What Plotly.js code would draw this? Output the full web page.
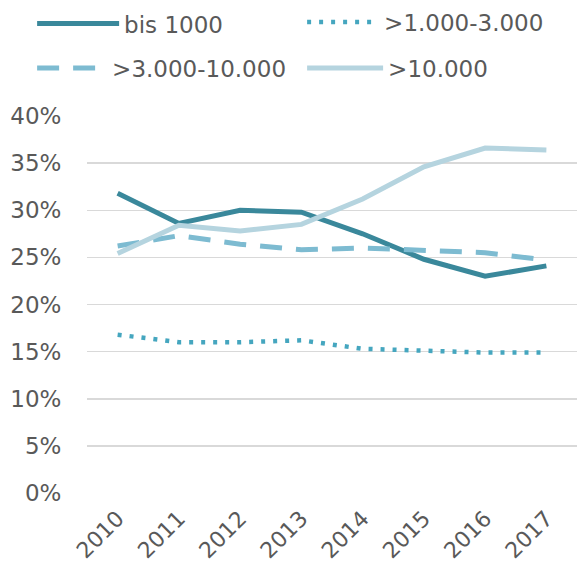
<!DOCTYPE html>
<html><head><meta charset="utf-8">
<script src="https://cdn.plot.ly/plotly-3.0.1.min.js"></script>
<style>body{margin:0;padding:0;background:#fff}#chart{width:577px;height:567px}</style>
</head><body><div id="chart"></div>
<script>
const years = ['2010','2011','2012','2013','2014','2015','2016','2017'];
const names = ['bis 1000', '>1.000-3.000', '>3.000-10.000', '>10.000'];
const bis1000 = [0.318, 0.286, 0.300, 0.298, 0.275, 0.248, 0.230, 0.241];
const s1000_3000 = [0.168, 0.160, 0.160, 0.162, 0.153, 0.151, 0.149, 0.149];
const s3000_10000 = [0.262, 0.273, 0.264, 0.258, 0.260, 0.257, 0.255, 0.247];
const over10000 = [0.254, 0.284, 0.278, 0.285, 0.312, 0.346, 0.366, 0.364];
const yTicks = [0, 0.05, 0.10, 0.15, 0.20, 0.25, 0.30, 0.35, 0.40];

const colors = ['#3a889b', '#45a6bf', '#7dbbd1', '#b5d4df'];
const dashes = ['solid', '4px,8px', '22px,14px', 'solid'];
const widths = [5, 4.5, 5, 5];
const series = [bis1000, s1000_3000, s3000_10000, over10000];
const legendIds = ['legend2', 'legend3', 'legend4', 'legend5'];

const traces = series.map((v, i) => ({
  x: years, y: v, name: names[i], type: 'scatter', mode: 'lines',
  line: {color: colors[i], width: widths[i], dash: dashes[i]},
  legend: legendIds[i], hoverinfo: 'x+y'
}));

const font = {family: 'DejaVu Sans, Verdana, sans-serif', size: 23, color: '#595959'};
function leg(x, y, iw) {
  return {
    orientation: 'h', xanchor: 'left', yanchor: 'middle', x: x, y: y,
    font: {family: font.family, size: 23, color: '#595959'},
    itemwidth: iw, bgcolor: 'rgba(0,0,0,0)', borderwidth: 0
  };
}
// paper coords: plot area x 87..577 (490px), y 116..493 (377px)
const layout = {
  width: 577, height: 567,
  margin: {l: 87, r: 0, t: 116, b: 74},
  paper_bgcolor: '#fff', plot_bgcolor: '#fff',
  font: font,
  showlegend: true,
  legend2: leg(-0.112, 1.245, 82),
  legend3: leg(0.439, 1.249, 72),
  legend4: leg(-0.112, 1.127, 70),
  legend5: leg(0.439, 1.127, 76),
  xaxis: {
    type: 'category', range: [-0.5, 7.5], showgrid: false, zeroline: false, showline: false,
    tickangle: -45, ticks: 'outside', ticklen: 3, tickcolor: 'rgba(0,0,0,0)',
    tickfont: {size: 22, color: '#595959'}, fixedrange: true
  },
  yaxis: {
    range: [0, 0.4], tickvals: yTicks, tickformat: '.0%',
    showgrid: true, gridcolor: '#d9d9d9', gridwidth: 1.5, zeroline: false, showline: false,
    ticks: 'outside', ticklen: 20, tickcolor: 'rgba(0,0,0,0)',
    tickfont: {size: 23, color: '#595959'}, fixedrange: true
  }
};

Plotly.newPlot('chart', traces, layout, {displayModeBar: false, staticPlot: true});
</script>
</body></html>
